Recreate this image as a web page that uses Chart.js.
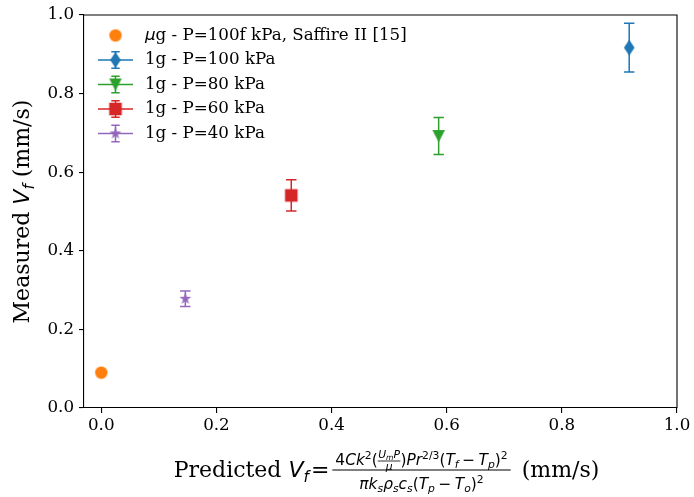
<!DOCTYPE html>
<html><head><meta charset="utf-8">
<script src="https://cdn.jsdelivr.net/npm/chart.js@4/dist/chart.umd.min.js"></script>
<style>html,body{margin:0;padding:0;background:#fff;}#wrap{width:694px;height:497px;position:relative;}</style>
</head><body><div id="wrap"><canvas id="c" width="694" height="497"></canvas></div>
<script>
// ---- data ----
const seriesLabels = ['μg - P=100f kPa, Saffire II [15]', '1g - P=100 kPa', '1g - P=80 kPa', '1g - P=60 kPa', '1g - P=40 kPa'];
const predicted = [0.0, 0.917, 0.586, 0.330, 0.146];
const measured = [0.09, 0.917, 0.692, 0.541, 0.278];
const measuredErr = [null, 0.062, 0.047, 0.040, 0.020];
const xTicks = [0.0, 0.2, 0.4, 0.6, 0.8, 1.0];
const yTicks = [0.0, 0.2, 0.4, 0.6, 0.8, 1.0];
const colors = ['#ff7f0e', '#1f77b4', '#2ca02c', '#d62728', '#9467bd'];
const markers = ['circle', 'thin_diamond', 'triangle_down', 'square', 'star'];

function makeMarker(shape, color) {
  const S = 22, c = document.createElement('canvas');
  c.width = S; c.height = S;
  const g = c.getContext('2d');
  g.fillStyle = color; g.translate(S / 2, S / 2); g.beginPath();
  if (shape === 'circle') g.arc(0, 0, 6.2, 0, Math.PI * 2);
  else if (shape === 'thin_diamond') { g.moveTo(0, -8); g.lineTo(5.3, 0); g.lineTo(0, 8); g.lineTo(-5.3, 0); }
  else if (shape === 'triangle_down') { g.moveTo(-6.3, -6); g.lineTo(6.3, -6); g.lineTo(0, 6.3); }
  else if (shape === 'square') { g.rect(-6.3, -6.3, 12.6, 12.6); }
  else if (shape === 'star') {
    const R = 6.3, r = R * 0.381966;
    for (let k = 0; k < 10; k++) {
      const a = -Math.PI / 2 + k * Math.PI / 5, rr = k % 2 ? r : R;
      const px = rr * Math.cos(a), py = rr * Math.sin(a);
      k ? g.lineTo(px, py) : g.moveTo(px, py);
    }
  }
  g.closePath(); g.fill();
  return c;
}
const markerImgs = markers.map((m, i) => makeMarker(m, colors[i]));

// ---- text helpers ----
function fontStr(r) {
  if (r.f === 'serif') return r.s + 'px "DejaVu Serif"';
  if (r.f === 'it') return 'italic ' + r.s + 'px "DejaVu Sans"';
  return r.s + 'px "DejaVu Sans"';
}
function itemWidth(ctx, r) {
  if (r.frac) {
    return Math.max(runsWidth(ctx, r.num), runsWidth(ctx, r.den)) + 2 * (r.pad || 0) + (r.pl || 0) + (r.pr || 0);
  }
  ctx.font = fontStr(r);
  return ctx.measureText(r.t).width + (r.pl || 0) + (r.pr || 0);
}
function runsWidth(ctx, runs) { let w = 0; for (const r of runs) w += itemWidth(ctx, r); return w; }
function drawRuns(ctx, runs, x, base) {
  for (const r of runs) {
    x += (r.pl || 0);
    if (r.frac) {
      const nw = runsWidth(ctx, r.num), dw = runsWidth(ctx, r.den);
      const w = Math.max(nw, dw) + 2 * (r.pad || 0);
      ctx.fillRect(x, base + r.barDy - r.bar / 2, w, r.bar);
      drawRuns(ctx, r.num, x + (w - nw) / 2, base + r.numDy);
      drawRuns(ctx, r.den, x + (w - dw) / 2, base + r.denDy);
      x += w;
    } else {
      ctx.font = fontStr(r);
      ctx.fillText(r.t, x, base + (r.dy || 0));
      x += ctx.measureText(r.t).width;
    }
    x += (r.pr || 0);
  }
  return x;
}

const B = 22, N = 15.4, S = 10.8, SS = 7.6;
const yTitleRuns = [
  { t: 'Measured ', f: 'serif', s: B },
  { t: 'V', f: 'it', s: B }, { t: 'f', f: 'it', s: N, dy: 4.5 },
  { t: ' (mm/s)', f: 'serif', s: B }
];
const numRuns = [
  { t: '4', f: 'rm', s: N }, { t: 'Ck', f: 'it', s: N }, { t: '2', f: 'rm', s: S, dy: -6.5 },
  { t: '(', f: 'rm', s: N },
  { frac: true, pad: 0.5, bar: 0.8, barDy: -4, numDy: -7, denDy: 4.5,
    num: [{ t: 'U', f: 'it', s: S }, { t: 'm', f: 'it', s: SS, dy: 2 }, { t: 'P', f: 'it', s: S }],
    den: [{ t: 'μ', f: 'it', s: S }] },
  { t: ')', f: 'rm', s: N }, { t: 'Pr', f: 'it', s: N }, { t: '2/3', f: 'rm', s: S, dy: -6.5 },
  { t: '(', f: 'rm', s: N }, { t: 'T', f: 'it', s: N }, { t: 'f', f: 'it', s: S, dy: 3 },
  { t: '−', f: 'rm', s: N, pl: 3.5, pr: 3.5 },
  { t: 'T', f: 'it', s: N }, { t: 'p', f: 'it', s: S, dy: 3 }, { t: ')', f: 'rm', s: N },
  { t: '2', f: 'rm', s: S, dy: -6.5 }
];
const denRuns = [
  { t: 'πk', f: 'it', s: N }, { t: 's', f: 'it', s: S, dy: 3 },
  { t: 'ρ', f: 'it', s: N }, { t: 's', f: 'it', s: S, dy: 3 },
  { t: 'c', f: 'it', s: N }, { t: 's', f: 'it', s: S, dy: 3 },
  { t: '(', f: 'rm', s: N }, { t: 'T', f: 'it', s: N }, { t: 'p', f: 'it', s: S, dy: 3 },
  { t: '−', f: 'rm', s: N, pl: 3.5, pr: 3.5 },
  { t: 'T', f: 'it', s: N }, { t: 'o', f: 'it', s: S, dy: 3 }, { t: ')', f: 'rm', s: N },
  { t: '2', f: 'rm', s: S, dy: -6.5 }
];
const xTitleRuns = [
  { t: 'Predicted ', f: 'serif', s: B },
  { t: 'V', f: 'it', s: B }, { t: 'f', f: 'it', s: N, dy: 4.5 },
  { t: '=', f: 'rm', s: B, pl: 2, pr: 3 },
  { frac: true, pad: 3, bar: 1, barDy: -7, numDy: -12, denDy: 12, pr: 4, num: numRuns, den: denRuns },
  { t: ' (mm/s)', f: 'serif', s: B }
];

const errorBars = {
  id: 'errorBars',
  beforeDatasetsDraw(chart) {
    const { ctx, scales: { x, y } } = chart;
    ctx.save(); ctx.lineWidth = 1.5;
    for (let i = 0; i < predicted.length; i++) {
      if (measuredErr[i] == null) continue;
      const px = x.getPixelForValue(predicted[i]);
      const yt = y.getPixelForValue(measured[i] + measuredErr[i]);
      const yb = y.getPixelForValue(measured[i] - measuredErr[i]);
      ctx.strokeStyle = colors[i];
      ctx.beginPath();
      ctx.moveTo(px, yt); ctx.lineTo(px, yb);
      ctx.moveTo(px - 5.2, yt); ctx.lineTo(px + 5.2, yt);
      ctx.moveTo(px - 5.2, yb); ctx.lineTo(px + 5.2, yb);
      ctx.stroke();
    }
    ctx.restore();
  }
};

const decor = {
  id: 'decor',
  afterDraw(chart) {
    const { ctx, chartArea: a } = chart;
    ctx.save();
    // top/right spines
    ctx.strokeStyle = '#000'; ctx.lineWidth = 1.1;
    ctx.beginPath();
    ctx.moveTo(a.left, a.top); ctx.lineTo(a.right, a.top); ctx.lineTo(a.right, a.bottom);
    ctx.stroke();
    // legend
    const rowY = [35.5, 60, 84.5, 109, 133.5];
    const hx0 = 98, hx1 = 133, hm = 115.5, tx = 145;
    ctx.textBaseline = 'middle';
    for (let i = 0; i < seriesLabels.length; i++) {
      const yy = rowY[i];
      if (measuredErr[i] != null) {
        ctx.strokeStyle = colors[i]; ctx.lineWidth = 1.5;
        ctx.beginPath();
        ctx.moveTo(hx0, yy); ctx.lineTo(hx1, yy);
        ctx.moveTo(hm, yy - 8.3); ctx.lineTo(hm, yy + 8.3);
        ctx.moveTo(hm - 4.2, yy - 8.3); ctx.lineTo(hm + 4.2, yy - 8.3);
        ctx.moveTo(hm - 4.2, yy + 8.3); ctx.lineTo(hm + 4.2, yy + 8.3);
        ctx.stroke();
      }
      const img = markerImgs[i];
      ctx.drawImage(img, hm - img.width / 2, yy - img.height / 2);
      ctx.fillStyle = '#000';
      const lab = seriesLabels[i];
      let runs;
      if (lab.startsWith('μ')) runs = [{ t: 'μ', f: 'it', s: 16.7 }, { t: lab.slice(1), f: 'serif', s: 16.7 }];
      else runs = [{ t: lab, f: 'serif', s: 16.7 }];
      drawRuns(ctx, runs, tx, yy);
    }
    ctx.textBaseline = 'alphabetic';
    ctx.fillStyle = '#000';
    // x title
    const cx = (a.left + a.right) / 2 + 6;
    const w = runsWidth(ctx, xTitleRuns);
    drawRuns(ctx, xTitleRuns, cx - w / 2, 477);
    // y title
    const cy = (a.top + a.bottom) / 2;
    const wy = runsWidth(ctx, yTitleRuns);
    ctx.translate(29, cy); ctx.rotate(-Math.PI / 2);
    drawRuns(ctx, yTitleRuns, -wy / 2, 0);
    ctx.restore();
  }
};

const tickFont = { family: 'DejaVu Serif', size: 16.7 };
new Chart(document.getElementById('c'), {
  type: 'scatter',
  data: {
    datasets: seriesLabels.map((lab, i) => ({
      label: lab,
      data: [{ x: predicted[i], y: measured[i] }],
      pointStyle: markerImgs[i], pointRadius: 7, pointHoverRadius: 7,
      backgroundColor: colors[i], borderColor: colors[i], showLine: false
    }))
  },
  options: {
    responsive: false, animation: false, events: [],
    layout: { padding: { left: 0, right: 17, top: 14, bottom: 0 } },
    plugins: { legend: { display: false }, tooltip: { enabled: false } },
    scales: {
      x: {
        type: 'linear', min: -0.03, max: 1.0,
        afterBuildTicks(s) { s.ticks = xTicks.map(v => ({ value: v })); },
        afterFit(s) { s.height = 89; },
        ticks: { color: '#000', font: tickFont, padding: 3, maxRotation: 0, autoSkip: false, callback: v => Number(v).toFixed(1) },
        grid: { drawOnChartArea: false, drawTicks: true, tickLength: 5, color: '#000', lineWidth: 1.1 },
        border: { display: true, color: '#000', width: 1.1 }
      },
      y: {
        type: 'linear', min: 0, max: 1.0,
        afterBuildTicks(s) { s.ticks = yTicks.map(v => ({ value: v })); },
        afterFit(s) { s.width = 84; },
        ticks: { color: '#000', font: tickFont, padding: 5, autoSkip: false, callback: v => Number(v).toFixed(1) },
        grid: { drawOnChartArea: false, drawTicks: true, tickLength: 5, color: '#000', lineWidth: 1.1 },
        border: { display: true, color: '#000', width: 1.1 }
      }
    }
  },
  plugins: [errorBars, decor]
});
</script>
</body></html>
